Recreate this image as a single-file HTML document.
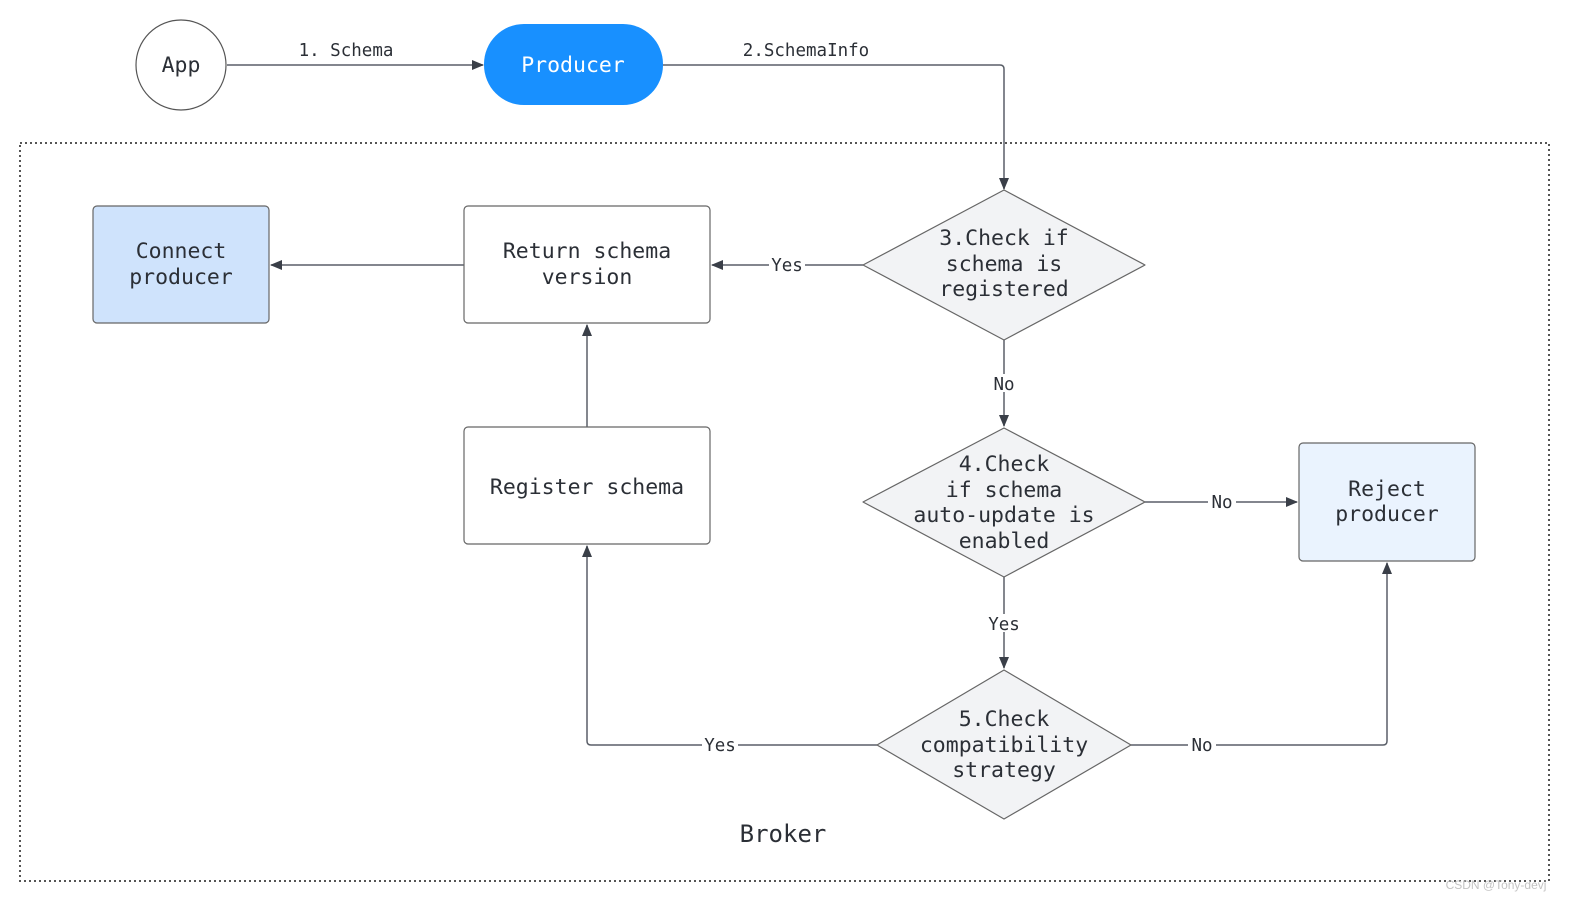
<!DOCTYPE html>
<html><head><meta charset="utf-8"><style>
html,body{margin:0;padding:0;background:#fff}
svg{display:block}
text{font-family:"DejaVu Sans Mono","Liberation Mono",monospace;fill:#2b2f36}
.t{font-size:21.5px}
.l{font-size:17.5px}
</style></head><body>
<svg width="1592" height="915" viewBox="0 0 1592 915">
<defs><marker id="a" markerWidth="12" markerHeight="10" refX="11" refY="5" orient="auto" markerUnits="userSpaceOnUse"><path d="M0,0 L12,5 L0,10 Z" fill="#3a3f48"/></marker></defs>
<rect x="20" y="143" width="1529" height="738" fill="none" stroke="#555" stroke-width="2" stroke-dasharray="2,3"/>
<g stroke="#5a5f68" stroke-width="1.5" fill="none">
<line x1="227" y1="65" x2="483" y2="65" marker-end="url(#a)"/>
<path d="M663 65 H1000 Q1004 65 1004 69 V189" marker-end="url(#a)"/>
<line x1="863" y1="265" x2="712" y2="265" marker-end="url(#a)"/>
<line x1="464" y1="265" x2="271" y2="265" marker-end="url(#a)"/>
<line x1="587" y1="427" x2="587" y2="325" marker-end="url(#a)"/>
<line x1="1004" y1="340" x2="1004" y2="426" marker-end="url(#a)"/>
<line x1="1145" y1="502" x2="1297" y2="502" marker-end="url(#a)"/>
<line x1="1004" y1="577" x2="1004" y2="668" marker-end="url(#a)"/>
<path d="M877 745 H591 Q587 745 587 741 V546" marker-end="url(#a)"/>
<path d="M1131 745 H1383 Q1387 745 1387 741 V563" marker-end="url(#a)"/>
</g>
<circle cx="181" cy="65" r="45" fill="#fff" stroke="#555" stroke-width="1.2"/>
<text class="t" x="181" y="72" text-anchor="middle">App</text>
<rect x="484" y="24" width="179" height="81" rx="40" fill="#1890ff"/>
<text class="t" x="573" y="72" text-anchor="middle" style="fill:#fff">Producer</text>
<text class="l" x="346" y="56" text-anchor="middle">1. Schema</text>
<text class="l" x="806" y="56" text-anchor="middle">2.SchemaInfo</text>
<rect x="93" y="206" width="176" height="117" rx="4" fill="#cfe3fc" stroke="#666" stroke-width="1.2"/>
<text class="t" x="181" y="258" text-anchor="middle">Connect</text>
<text class="t" x="181" y="284" text-anchor="middle">producer</text>
<rect x="464" y="206" width="246" height="117" rx="4" fill="#fff" stroke="#666" stroke-width="1.2"/>
<text class="t" x="587" y="258" text-anchor="middle">Return schema</text>
<text class="t" x="587" y="284" text-anchor="middle">version</text>
<rect x="464" y="427" width="246" height="117" rx="4" fill="#fff" stroke="#666" stroke-width="1.2"/>
<text class="t" x="587" y="494" text-anchor="middle">Register schema</text>
<rect x="1299" y="443" width="176" height="118" rx="4" fill="#eaf3fe" stroke="#666" stroke-width="1.2"/>
<text class="t" x="1387" y="496" text-anchor="middle">Reject</text>
<text class="t" x="1387" y="521" text-anchor="middle">producer</text>
<polygon points="1004,190 1145,265 1004,340 863,265" fill="#f2f3f5" stroke="#666" stroke-width="1.2" stroke-linejoin="round"/>
<text class="t" x="1004" y="245" text-anchor="middle">3.Check if</text>
<text class="t" x="1004" y="271" text-anchor="middle">schema is</text>
<text class="t" x="1004" y="296" text-anchor="middle">registered</text>
<polygon points="1004,428 1145,502 1004,577 863,502" fill="#f2f3f5" stroke="#666" stroke-width="1.2" stroke-linejoin="round"/>
<text class="t" x="1004" y="471" text-anchor="middle">4.Check</text>
<text class="t" x="1004" y="497" text-anchor="middle">if schema</text>
<text class="t" x="1004" y="522" text-anchor="middle">auto-update is</text>
<text class="t" x="1004" y="548" text-anchor="middle">enabled</text>
<polygon points="1004,670 1131,745 1004,819 877,745" fill="#f2f3f5" stroke="#666" stroke-width="1.2" stroke-linejoin="round"/>
<text class="t" x="1004" y="726" text-anchor="middle">5.Check</text>
<text class="t" x="1004" y="752" text-anchor="middle">compatibility</text>
<text class="t" x="1004" y="777" text-anchor="middle">strategy</text>
<rect x="769" y="256" width="36" height="18" fill="#fff"/><text class="l" x="787" y="271" text-anchor="middle">Yes</text>
<rect x="990" y="374" width="28" height="18" fill="#fff"/><text class="l" x="1004" y="390" text-anchor="middle">No</text>
<rect x="1208" y="493" width="28" height="18" fill="#fff"/><text class="l" x="1222" y="508" text-anchor="middle">No</text>
<rect x="985" y="614" width="38" height="18" fill="#fff"/><text class="l" x="1004" y="630" text-anchor="middle">Yes</text>
<rect x="702" y="736" width="36" height="18" fill="#fff"/><text class="l" x="720" y="751" text-anchor="middle">Yes</text>
<rect x="1188" y="736" width="28" height="18" fill="#fff"/><text class="l" x="1202" y="751" text-anchor="middle">No</text>
<text x="783" y="842" text-anchor="middle" style="font-size:24px">Broker</text>
<text x="1496" y="889" text-anchor="middle" style="font-family:'Liberation Sans',sans-serif;font-size:12px;fill:#c4c4c4">CSDN @Tony-devj</text>
</svg>
</body></html>
